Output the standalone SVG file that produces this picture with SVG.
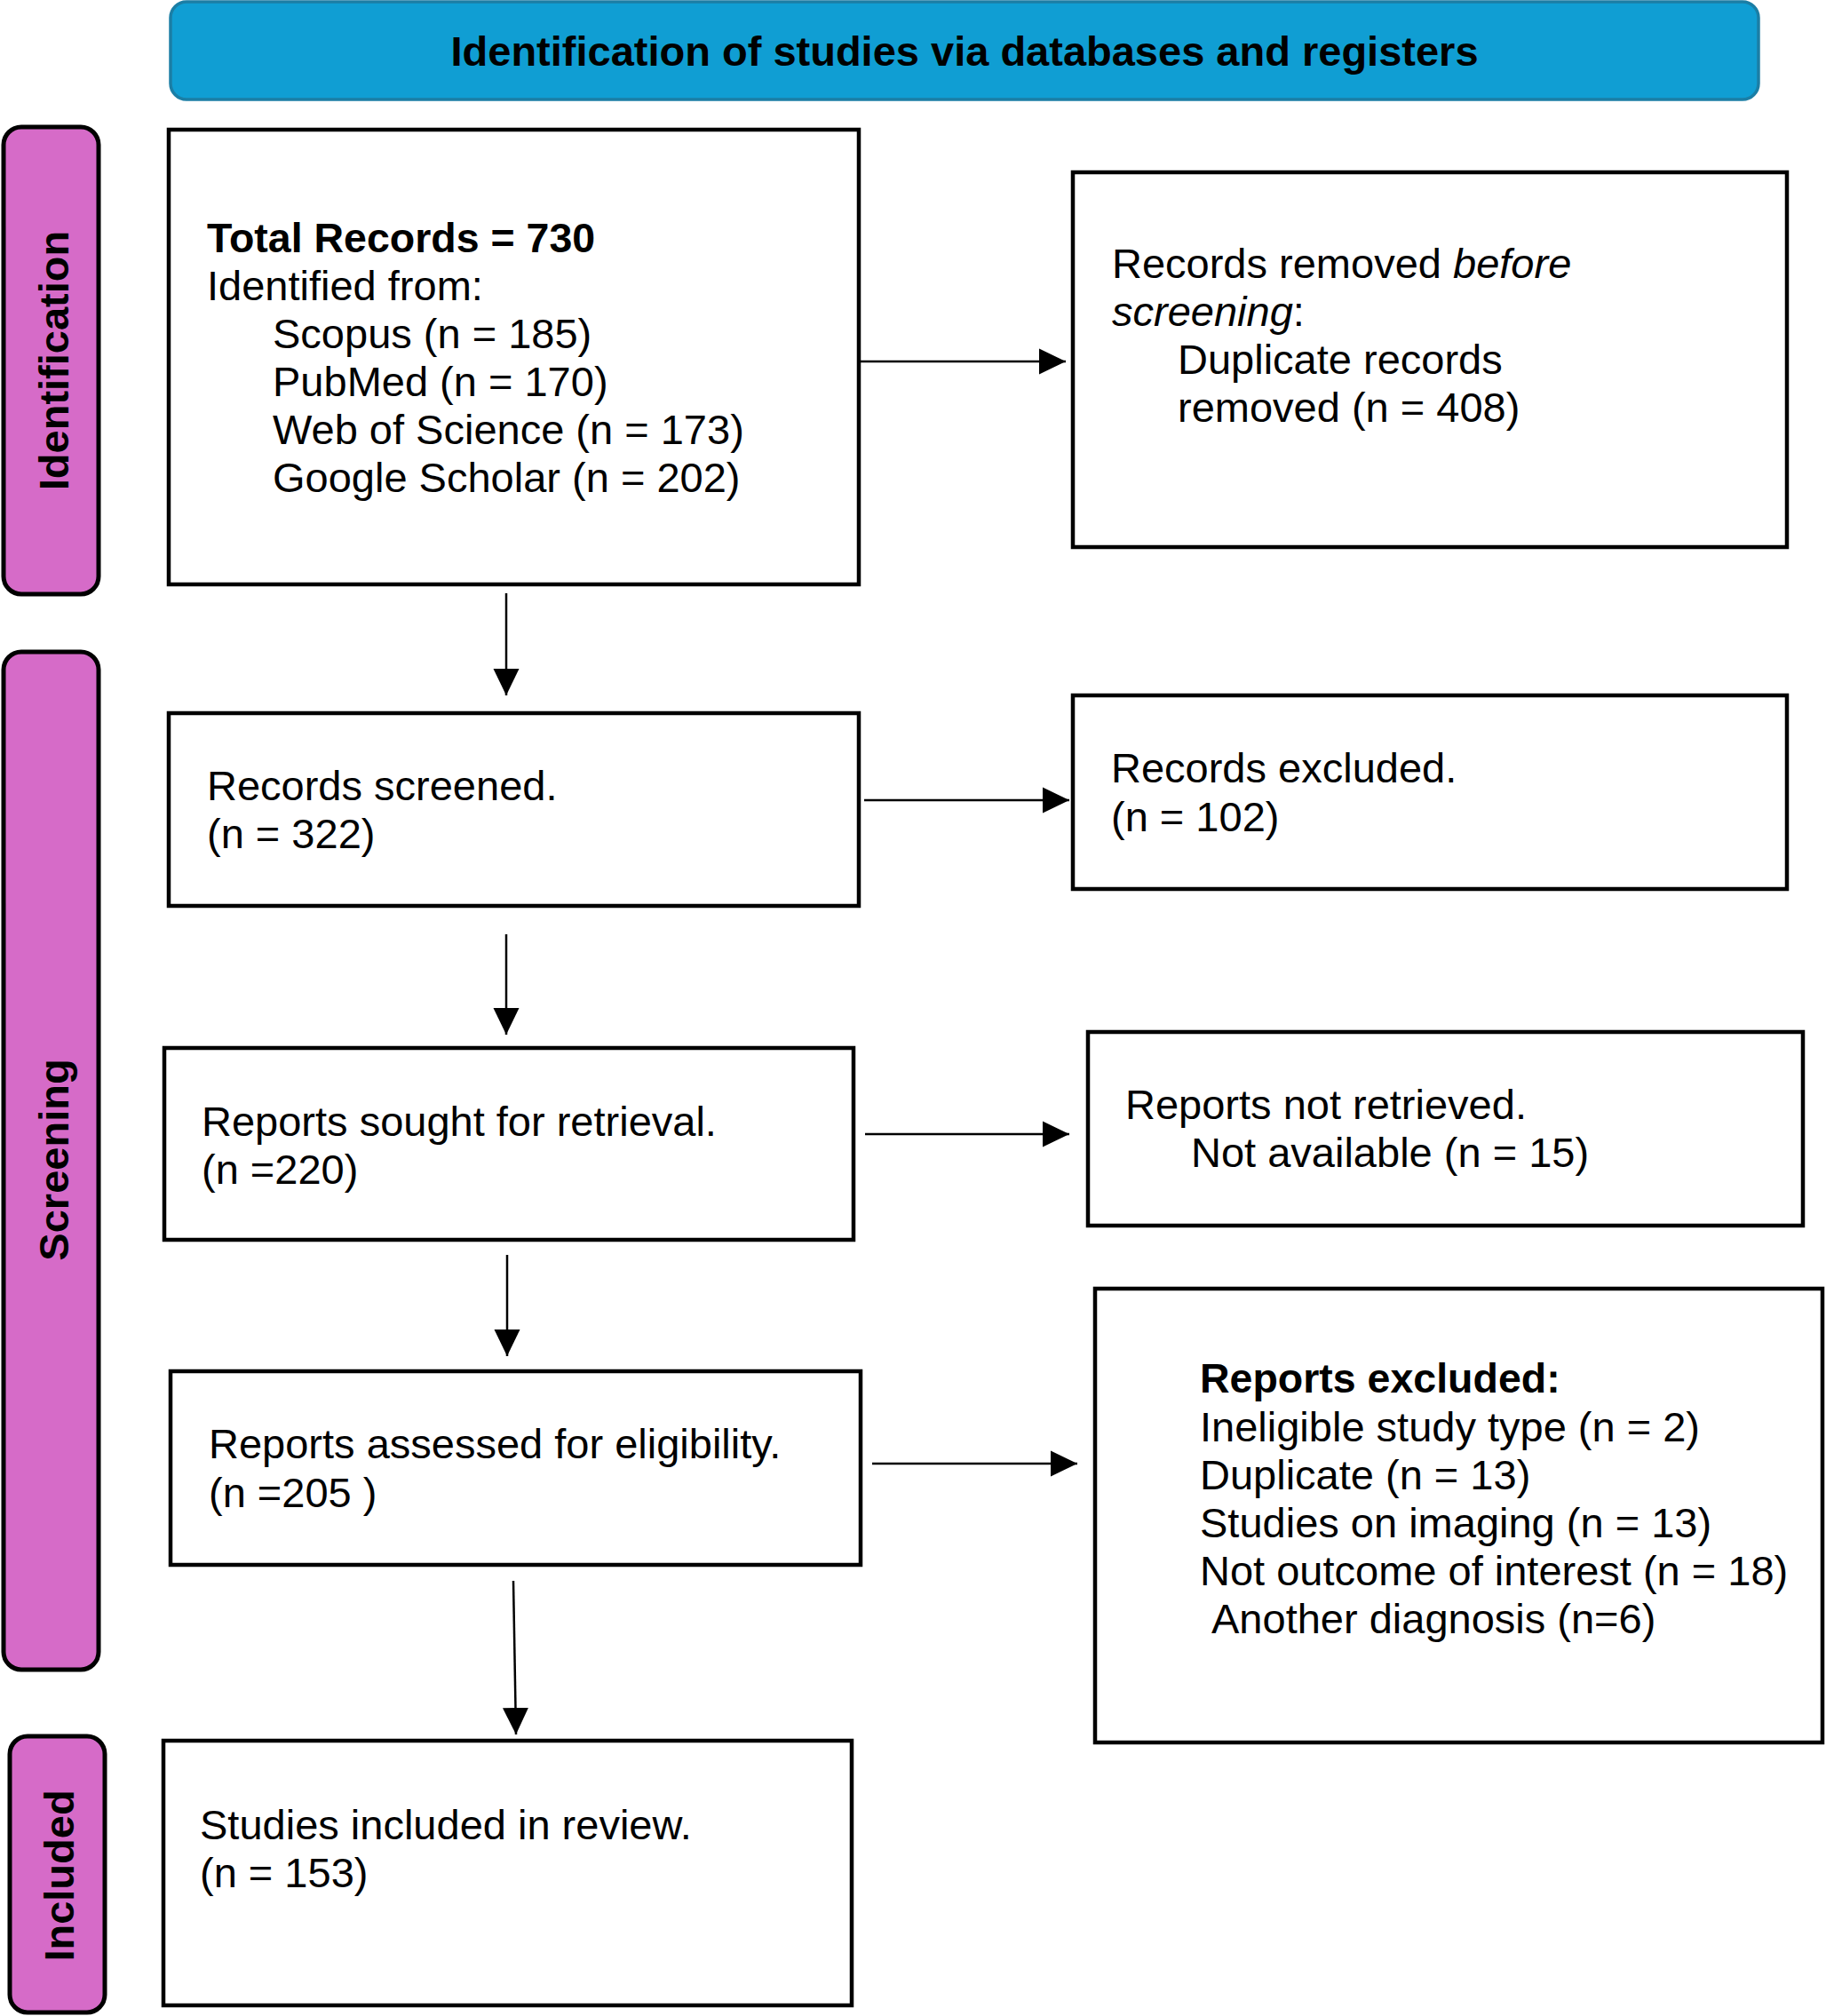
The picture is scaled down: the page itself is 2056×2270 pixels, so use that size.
<svg xmlns="http://www.w3.org/2000/svg" width="2056" height="2270" viewBox="0 0 2056 2270">
<style>
.bg{fill:#ffffff}
.box{fill:#ffffff;stroke:#000000;stroke-width:4.5}
.phase{fill:#d66bc8;stroke:#000000;stroke-width:5}
.hdr{fill:#109ed3;stroke:#1b7ea5;stroke-width:3.5}
.t{font-family:"Liberation Sans",Arial,sans-serif;font-size:47px;fill:#000000}
.b{font-weight:bold}
.i{font-style:italic}
.ph{font-family:"Liberation Sans",Arial,sans-serif;font-size:47px;font-weight:bold;fill:#000000;text-anchor:middle}
.ht{font-family:"Liberation Sans",Arial,sans-serif;font-size:47px;font-weight:bold;fill:#000000;text-anchor:middle}
.c{fill:none;stroke:#000000;stroke-width:2.5}
</style>
<defs>
<marker id="ah" markerUnits="userSpaceOnUse" markerWidth="30" markerHeight="30" viewBox="0 0 30 30" refX="30" refY="15" orient="auto">
<path d="M0,0.5 L30,15 L0,29.5 Z" fill="#000000"/>
</marker>
</defs>
<rect class="bg" x="0" y="0" width="2056" height="2270"/>

<g id="header">
<rect class="hdr" x="192" y="2" width="1788" height="110" rx="18"/>
<text class="ht" x="1086" y="74">Identification of studies via databases and registers</text>
</g>

<g id="phase-identification">
<rect class="phase" x="4" y="143" width="107" height="526" rx="20"/>
<text class="ph" transform="translate(77,406) rotate(-90)">Identification</text>
</g>
<g id="phase-screening">
<rect class="phase" x="4" y="734" width="107" height="1146" rx="20"/>
<text class="ph" transform="translate(77,1306) rotate(-90)">Screening</text>
</g>
<g id="phase-included">
<rect class="phase" x="11" y="1955" width="107" height="311" rx="20"/>
<text class="ph" transform="translate(83,2112) rotate(-90)">Included</text>
</g>

<g id="connectors">
<path class="c" d="M969,407 L1200,407" marker-end="url(#ah)"/>
<path class="c" d="M570,668 L570,783" marker-end="url(#ah)"/>
<path class="c" d="M973,901 L1204,901" marker-end="url(#ah)"/>
<path class="c" d="M570,1052 L570,1165" marker-end="url(#ah)"/>
<path class="c" d="M974,1277 L1204,1277" marker-end="url(#ah)"/>
<path class="c" d="M571,1413 L571,1527" marker-end="url(#ah)"/>
<path class="c" d="M982,1648 L1213,1648" marker-end="url(#ah)"/>
<path class="c" d="M578,1780 L581,1953" marker-end="url(#ah)"/>
</g>

<g id="node-total-records">
<rect class="box" x="190" y="146" width="777" height="512"/>
<text class="t b" x="233" y="284" style="font-size:46.5px">Total Records = 730</text>
<text class="t" x="233" y="338">Identified from:</text>
<text class="t" x="307" y="392">Scopus (n = 185)</text>
<text class="t" x="307" y="446">PubMed (n = 170)</text>
<text class="t" x="307" y="500">Web of Science (n = 173)</text>
<text class="t" x="307" y="554">Google Scholar (n = 202)</text>
</g>

<g id="node-removed-before-screening">
<rect class="box" x="1208" y="194" width="804" height="422"/>
<text class="t" x="1252" y="313">Records removed <tspan class="i">before</tspan></text>
<text class="t" x="1252" y="367"><tspan class="i">screening</tspan>:</text>
<text class="t" x="1326" y="421">Duplicate records</text>
<text class="t" x="1326" y="475">removed (n = 408)</text>
</g>

<g id="node-records-screened">
<rect class="box" x="190" y="803" width="777" height="217"/>
<text class="t" x="233" y="901">Records screened.</text>
<text class="t" x="233" y="955">(n = 322)</text>
</g>

<g id="node-records-excluded">
<rect class="box" x="1208" y="783" width="804" height="218"/>
<text class="t" x="1251" y="881">Records excluded.</text>
<text class="t" x="1251" y="936">(n = 102)</text>
</g>

<g id="node-reports-sought">
<rect class="box" x="185" y="1180" width="776" height="216"/>
<text class="t" x="227" y="1279">Reports sought for retrieval.</text>
<text class="t" x="227" y="1333">(n =220)</text>
</g>

<g id="node-reports-not-retrieved">
<rect class="box" x="1225" y="1162" width="805" height="218"/>
<text class="t" x="1267" y="1260">Reports not retrieved.</text>
<text class="t" x="1341" y="1314">Not available (n = 15)</text>
</g>

<g id="node-reports-assessed">
<rect class="box" x="192" y="1544" width="777" height="218"/>
<text class="t" x="235" y="1642">Reports assessed for eligibility.</text>
<text class="t" x="235" y="1697">(n =205 )</text>
</g>

<g id="node-reports-excluded">
<rect class="box" x="1233" y="1451" width="819" height="511"/>
<text class="t b" x="1351" y="1568" style="font-size:46.5px">Reports excluded:</text>
<text class="t" x="1351" y="1623">Ineligible study type (n = 2)</text>
<text class="t" x="1351" y="1677">Duplicate (n = 13)</text>
<text class="t" x="1351" y="1731">Studies on imaging (n = 13)</text>
<text class="t" x="1351" y="1785">Not outcome of interest (n = 18)</text>
<text class="t" x="1364" y="1839">Another diagnosis (n=6)</text>
</g>

<g id="node-studies-included">
<rect class="box" x="184" y="1960" width="775" height="298"/>
<text class="t" x="225" y="2071">Studies included in review.</text>
<text class="t" x="225" y="2125">(n = 153)</text>
</g>
</svg>
